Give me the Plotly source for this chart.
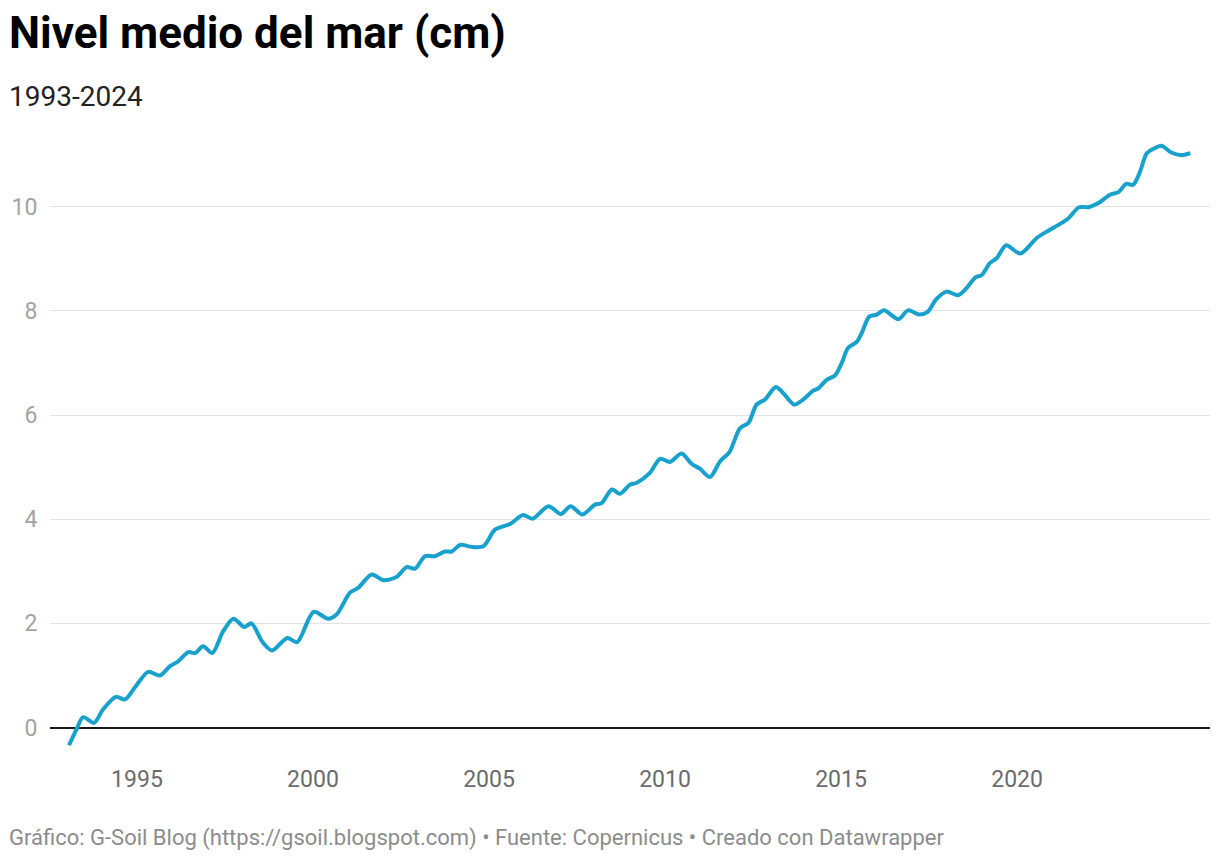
import plotly.graph_objects as go

years = [1993.07, 1993.28, 1993.47, 1993.78, 1994.04, 1994.40, 1994.66, 1994.94,
         1995.32, 1995.65, 1995.94, 1996.17, 1996.46, 1996.65, 1996.88, 1997.14,
         1997.45, 1997.74, 1998.05, 1998.25, 1998.57, 1998.84, 1999.27, 1999.55,
         2000.02, 2000.43, 2000.67, 2001.05, 2001.28, 2001.67, 2002.00, 2002.37,
         2002.66, 2002.90, 2003.18, 2003.46, 2003.75, 2003.94, 2004.19, 2004.50,
         2004.84, 2005.17, 2005.60, 2005.97, 2006.24, 2006.69, 2007.04, 2007.32,
         2007.65, 2008.01, 2008.20, 2008.49, 2008.72, 2009.00, 2009.20, 2009.57,
         2009.86, 2010.14, 2010.47, 2010.76, 2010.99, 2011.28, 2011.56, 2011.83,
         2012.13, 2012.37, 2012.60, 2012.84, 2013.15, 2013.36, 2013.67, 2013.93,
         2014.21, 2014.35, 2014.60, 2014.83, 2015.02, 2015.20, 2015.45, 2015.59,
         2015.80, 2016.01, 2016.22, 2016.63, 2016.90, 2017.22, 2017.46, 2017.70,
         2018.00, 2018.33, 2018.57, 2018.81, 2019.00, 2019.23, 2019.42, 2019.69,
         2020.09, 2020.56, 2020.89, 2021.22, 2021.46, 2021.76, 2022.03, 2022.31,
         2022.64, 2022.88, 2023.10, 2023.30, 2023.48, 2023.68, 2023.87, 2024.10,
         2024.38, 2024.66, 2024.92]

sea_level_cm = [-0.34, -0.04, 0.20, 0.09, 0.35, 0.59, 0.54, 0.77,
                1.07, 1.00, 1.18, 1.27, 1.45, 1.43, 1.56, 1.43,
                1.85, 2.09, 1.93, 2.00, 1.64, 1.48, 1.72, 1.64,
                2.22, 2.09, 2.17, 2.59, 2.68, 2.94, 2.83, 2.89,
                3.08, 3.05, 3.29, 3.29, 3.38, 3.38, 3.51, 3.47,
                3.48, 3.80, 3.91, 4.08, 4.01, 4.25, 4.10, 4.25,
                4.09, 4.28, 4.31, 4.57, 4.49, 4.66, 4.70, 4.89,
                5.16, 5.10, 5.26, 5.06, 4.97, 4.81, 5.11, 5.29,
                5.75, 5.85, 6.20, 6.30, 6.54, 6.42, 6.20, 6.30,
                6.47, 6.51, 6.68, 6.76, 7.00, 7.29, 7.41, 7.58,
                7.89, 7.93, 8.01, 7.84, 8.01, 7.93, 7.98, 8.22,
                8.37, 8.30, 8.44, 8.64, 8.69, 8.92, 9.01, 9.26,
                9.10, 9.40, 9.54, 9.67, 9.78, 9.99, 9.99, 10.07,
                10.23, 10.28, 10.44, 10.42, 10.65, 11.02, 11.11, 11.17,
                11.04, 10.99, 11.03]

x_ticks = [1995, 2000, 2005, 2010, 2015, 2020]
x_tick_labels = ["1995", "2000", "2005", "2010", "2015", "2020"]
y_ticks = [0, 2, 4, 6, 8, 10]
y_tick_labels = ["0", "2", "4", "6", "8", "10"]

title_text = "Nivel medio del mar (cm)"
subtitle_text = "1993-2024"
footer_text = ("Gráfico: G-Soil Blog (https://gsoil.blogspot.com) • Fuente: Copernicus • "
               "Creado con Datawrapper")

W, H = 1220, 862
ML, MR, MT, MB = 50, 10, 139, 111
plot_w = W - ML - MR
plot_h = H - MT - MB


def px_x(px):
    return (px - ML) / plot_w


def px_y(py):
    return (H - MB - py) / plot_h


fig = go.Figure()
fig.add_trace(go.Scatter(
    x=years, y=sea_level_cm, mode="lines",
    line=dict(color="#18a1cd", width=4, shape="spline", smoothing=0.8),
    hoverinfo="x+y", showlegend=False,
))

fig.update_layout(
    width=W, height=H, autosize=False,
    margin=dict(l=ML, r=MR, t=MT, b=MB, pad=0),
    paper_bgcolor="white", plot_bgcolor="white",
    font=dict(family="Roboto, sans-serif"),
    xaxis=dict(
        range=[1992.53, 2025.48], tickmode="array", tickvals=x_ticks,
        ticktext=x_tick_labels, showgrid=False, zeroline=False, showline=False,
        ticks="outside", ticklen=7, tickcolor="rgba(0,0,0,0)",
        tickfont=dict(family="Roboto", size=23, color="#6b6b6b"),
    ),
    yaxis=dict(
        range=[-0.45, 11.3], tickmode="array", tickvals=y_ticks,
        ticktext=y_tick_labels, showgrid=True, gridcolor="#e3e3e3", gridwidth=1.2,
        zeroline=True, zerolinecolor="#1a1a1a", zerolinewidth=1.8, showline=False,
        ticks="outside", ticklen=7, tickcolor="rgba(0,0,0,0)",
        tickfont=dict(family="Roboto", size=23, color="#a3a3a3"),
    ),
    annotations=[
        dict(text="<b>" + title_text + "</b>", xref="paper", yref="paper",
             x=px_x(7), y=px_y(33), xanchor="left", yanchor="middle",
             showarrow=False, font=dict(family="Roboto", size=44, color="#000000")),
        dict(text=subtitle_text, xref="paper", yref="paper",
             x=px_x(7), y=px_y(96), xanchor="left", yanchor="middle",
             showarrow=False, font=dict(family="Roboto", size=28, color="#222222")),
        dict(text=footer_text, xref="paper", yref="paper",
             x=px_x(7), y=px_y(838), xanchor="left", yanchor="middle",
             showarrow=False, font=dict(family="Roboto", size=22, color="#8c8c8c")),
    ],
)

fig.write_html(
    "out.html",
    config={"displayModeBar": False},
    post_script="document.body.style.margin='0';document.body.style.padding='0';",
)
